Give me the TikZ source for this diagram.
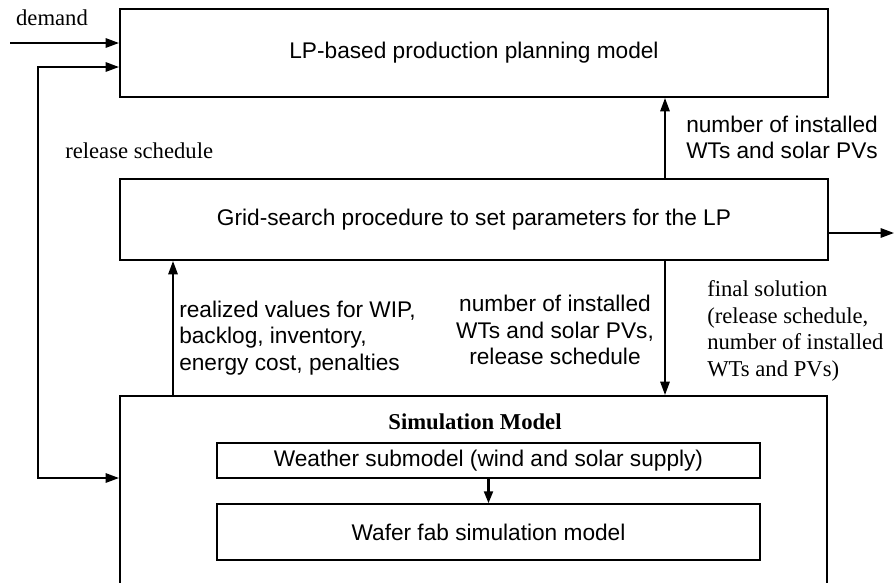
\documentclass[tikz,border=0pt]{standalone}
\usepackage{fontspec}
\setmainfont{Liberation Serif}
\setsansfont{Liberation Sans}
\usetikzlibrary{arrows.meta}
\tikzset{
  bigbox/.style={draw, line width=1.5pt, inner sep=0pt, font=\sffamily\fontsize{17}{20}\selectfont},
  subbox/.style={draw, line width=0.9pt, inner sep=0pt, font=\sffamily\fontsize{17}{20}\selectfont},
  tip/.style={-{Triangle[length=10pt,width=7pt]}},
  conn/.style={line width=1.4pt, tip},
  sanslbl/.style={inner sep=0pt, font=\sffamily\fontsize{17}{20}\selectfont},
  seriflbl/.style={inner sep=0pt, font=\rmfamily\fontsize{17}{20}\selectfont},
}
\begin{document}
\begin{tikzpicture}[x=0.75pt,y=-0.75pt]
\clip (0,0) rectangle (896,582);
\fill[white] (0,0) rectangle (896,582);

% boxes
\node[bigbox, minimum width=531pt, minimum height=66pt] (lp) at (474,53) {LP-based production planning model};
\node[bigbox, minimum width=531pt, minimum height=60.75pt] (grid) at (474,219.5) {Grid-search procedure to set parameters for the LP};
\node[bigbox, minimum width=530.25pt, minimum height=228pt] (sim) at (473.5,548) {};
\node[seriflbl, font=\rmfamily\bfseries\fontsize{17}{20}\selectfont] (simtitle) at (475,422) {Simulation Model};
\node[subbox, minimum width=407.25pt, minimum height=26.25pt] (weather) at (488.5,460.5) {Weather submodel (wind and solar supply)};
\node[subbox, minimum width=407.25pt, minimum height=42pt] (wafer) at (488.5,532) {Wafer fab simulation model};

% coordinates
\coordinate (dem) at (10,43);
\coordinate (fbt) at (38,67);
\coordinate (fbb) at (38,478);
\coordinate (ax) at (665,0);
\coordinate (bx) at (173,0);
\coordinate (outy) at (0,233);
\coordinate (outend) at (894,233);

% connectors
\draw[conn] (dem) -- (dem -| lp.west);
\draw[line width=1.4pt, {Triangle[length=10pt,width=7pt]}-{Triangle[length=10pt,width=7pt]}]
  (fbt -| lp.west) -- (fbt) -- (fbb) -- (fbb -| sim.west);
\draw[conn] (ax |- grid.north) -- (ax |- lp.south);
\draw[conn] (ax |- grid.south) -- (ax |- sim.north);
\draw[conn] (bx |- sim.north) -- (bx |- grid.south);
\draw[conn] (outy -| grid.east) -- (outend);
\draw[line width=2pt, -{Triangle[length=9pt,width=6.5pt]}] (weather.south) -- (wafer.north);

% labels
\node[seriflbl] (ldemand) at (52,18) {demand};
\node[seriflbl, anchor=west] (lrelease) at (65,151) {release schedule};
\node[sanslbl, anchor=west, align=left] (lnum) at (686,137.5) {number of installed\\WTs and solar PVs};
\node[sanslbl, anchor=west, align=left] (lreal) at (179,338) {realized values for WIP,\\backlog, inventory,\\energy cost, penalties};
\node[sanslbl, align=center] (lmid) at (555,330) {number of installed\\WTs and solar PVs,\\release schedule};
\node[seriflbl, anchor=west, align=left] (lfinal) at (707,331) {final solution\\(release schedule,\\number of installed\\WTs and PVs)};
\end{tikzpicture}
\end{document}
